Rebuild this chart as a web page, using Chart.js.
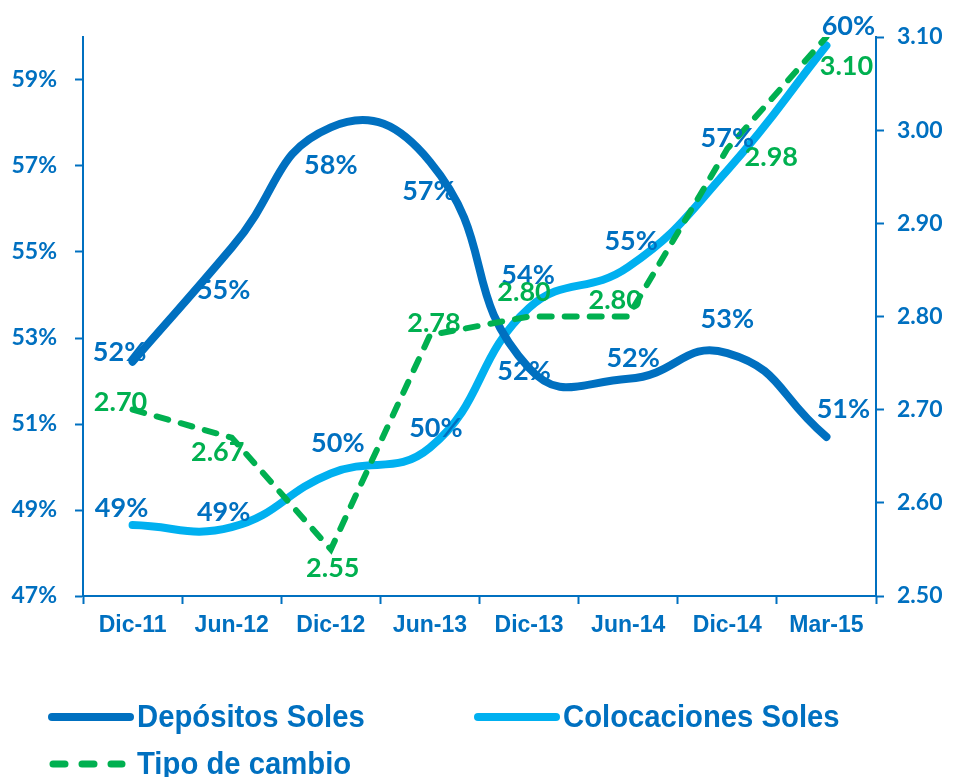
<!DOCTYPE html>
<html>
<head>
<meta charset="utf-8">
<script src="https://cdn.jsdelivr.net/npm/chart.js@4.4.1/dist/chart.umd.min.js"></script>
<style>
  body { margin: 0; background: #fff; }
  #wrap { position: relative; width: 953px; height: 777px; }
  .leg { position: absolute; font-family: "Liberation Sans", Arial, sans-serif; font-weight: bold; font-size: 32px; color: #0070C0; line-height: 1; white-space: nowrap; transform: scaleX(0.915); transform-origin: left center; }
  svg.ls { position: absolute; }
</style>
</head>
<body>
<div id="wrap">
  <canvas id="chart"></canvas>
  <svg class="ls" style="left:40px;top:705px" width="110" height="24"><line x1="12" y1="12" x2="90" y2="12" stroke="#0070C0" stroke-width="8" stroke-linecap="round"/></svg>
  <div class="leg" style="left:137px;top:700px">Depósitos Soles</div>
  <svg class="ls" style="left:466px;top:705px" width="110" height="24"><line x1="12" y1="12" x2="90" y2="12" stroke="#00B0F0" stroke-width="8" stroke-linecap="round"/></svg>
  <div class="leg" style="left:563px;top:700px">Colocaciones Soles</div>
  <svg class="ls" style="left:40px;top:752px" width="110" height="24"><line x1="13" y1="12" x2="82" y2="12" stroke="#00B050" stroke-width="7" stroke-linecap="round" stroke-dasharray="12 17"/></svg>
  <div class="leg" style="left:137px;top:747px">Tipo de cambio</div>
</div>
<script>
const categories = ["Dic-11", "Jun-12", "Dic-12", "Jun-13", "Dic-13", "Jun-14", "Dic-14", "Mar-15"];
const depositosSoles = [52.45, 55.1, 57.9, 57.1, 52.3, 52.05, 52.65, 50.7];
const colocacionesSoles = [48.65, 48.6, 49.85, 50.45, 53.7, 54.65, 56.9, 59.8];
const tipoCambio = [2.70, 2.67, 2.55, 2.78, 2.80, 2.80, 2.98, 3.10];
const leftTicks = [47, 49, 51, 53, 55, 57, 59];
const rightTicks = [2.50, 2.60, 2.70, 2.80, 2.90, 3.00, 3.10];

const blue = "#0070C0";
const lightBlue = "#00B0F0";
const green = "#00B050";
const labelFont = "bold 27px Lato, 'Open Sans', sans-serif";

// label offsets (dx, dy) from each point, per dataset
const labelOffsets = [
    [[-13, -9], [-8, 43], [0, 38], [-1, 30], [-5, 3], [5, -21], [0, -34], [17, -28]],
    [[-11, -17], [-8, -15], [7, -30], [6, -19], [-1, -33], [3, -26], [0, -32], [22, -19]],
    [[-12, -7], [-14, 15], [2, 19], [4, -12], [-5, -24], [-13, -16], [44, 8], [20, 29]]
];

const pointLabels = {
    id: "pointLabels",
    afterDatasetsDraw(chart) {
        let ctx = chart.ctx;
        ctx.save();
        ctx.font = labelFont;
        ctx.textAlign = "center";
        ctx.textBaseline = "middle";
        chart.data.datasets.forEach((ds, di) => {
            let meta = chart.getDatasetMeta(di);
            meta.data.forEach((pt, i) => {
                let v = ds.data[i];
                let txt = ds.yAxisID === "y1" ? v.toFixed(2) : Math.round(v) + "%";
                let off = labelOffsets[di][i];
                ctx.fillStyle = ds.yAxisID === "y1" ? green : blue;
                ctx.fillText(txt, pt.x + off[0], pt.y + off[1]);
            });
        });
        ctx.restore();
    }
};

new Chart(document.getElementById("chart"), {
    type: "line",
    data: {
        labels: categories,
        datasets: [
            {
                label: "Depósitos Soles",
                data: depositosSoles,
                yAxisID: "y",
                borderColor: blue,
                borderWidth: 8,
                tension: 0.5,
                pointRadius: 0,
                borderCapStyle: "round",
                order: 1
            },
            {
                label: "Colocaciones Soles",
                data: colocacionesSoles,
                yAxisID: "y",
                borderColor: lightBlue,
                borderWidth: 8,
                tension: 0.45,
                pointRadius: 0,
                borderCapStyle: "round",
                order: 2
            },
            {
                label: "Tipo de cambio",
                data: tipoCambio,
                yAxisID: "y1",
                borderColor: green,
                borderWidth: 6,
                borderDash: [12, 13],
                borderCapStyle: "round",
                tension: 0,
                pointRadius: 0,
                order: 0
            }
        ]
    },
    options: {
        responsive: true,
        maintainAspectRatio: false,
        animation: false,
        layout: { padding: { top: 37, left: 0, right: 0, bottom: 0 } },
        plugins: {
            legend: { display: false },
            tooltip: { enabled: false }
        },
        scales: {
            x: {
                offset: true,
                grid: { offset: true, drawOnChartArea: false, tickLength: 8, tickColor: blue, tickWidth: 2 },
                border: { color: blue, width: 2 },
                ticks: {
                    autoSkip: false,
                    maxRotation: 0,
                    padding: 8,
                    color: blue,
                    font: { family: "'Liberation Sans', Arial, sans-serif", weight: "bold", size: 23 }
                },
                afterFit(scale) { scale.height = 181; }
            },
            y: {
                position: "left",
                min: 47,
                max: 60,
                afterBuildTicks(scale) { scale.ticks = leftTicks.map(v => ({ value: v })); },
                grid: { drawOnChartArea: false, tickLength: 8, tickColor: blue, tickWidth: 2 },
                border: { color: blue, width: 2 },
                ticks: {
                    padding: 18,
                    color: blue,
                    font: { family: "Lato, 'Open Sans', sans-serif", weight: "bold", size: 23 },
                    callback: v => v + "%"
                },
                afterFit(scale) { scale.width = 83; }
            },
            y1: {
                position: "right",
                min: 2.5,
                max: 3.1,
                afterBuildTicks(scale) { scale.ticks = rightTicks.map(v => ({ value: v })); },
                grid: { drawOnChartArea: false, tickLength: 8, tickColor: blue, tickWidth: 2 },
                border: { color: blue, width: 2 },
                ticks: {
                    padding: 13,
                    color: blue,
                    font: { family: "Lato, 'Open Sans', sans-serif", weight: "bold", size: 23 },
                    callback: v => v.toFixed(2)
                },
                afterFit(scale) { scale.width = 77; }
            }
        }
    },
    plugins: [pointLabels]
});
</script>
</body>
</html>
